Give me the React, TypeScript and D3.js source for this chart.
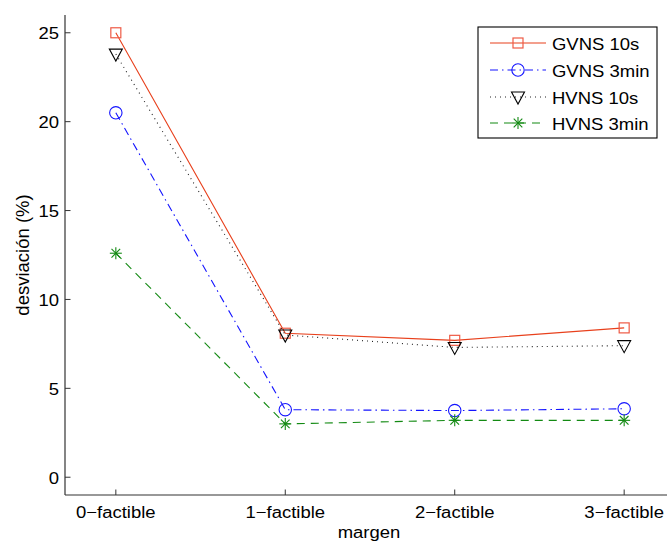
import React from "react";
import * as d3 from "d3";

const categories = ["0−factible", "1−factible", "2−factible", "3−factible"];
const gvns10s = [25.0, 8.1, 7.7, 8.4];
const gvns3min = [20.5, 3.8, 3.75, 3.85];
const hvns10s = [23.8, 8.0, 7.3, 7.4];
const hvns3min = [12.6, 3.0, 3.2, 3.2];
const yTicks = [0, 5, 10, 15, 20, 25];
const seriesNames = ["GVNS 10s", "GVNS 3min", "HVNS 10s", "HVNS 3min"];

const W = 667;
const H = 542;
const FONT = "'Liberation Sans', Arial, Helvetica, sans-serif";

type Marker = "square" | "circle" | "tri" | "star";
const seriesStyle: { color: string; dash: string | undefined; marker: Marker }[] = [
  { color: "#e8401c", dash: undefined, marker: "square" },
  { color: "#1414ff", dash: "8,4,1.5,4", marker: "circle" },
  { color: "#222222", dash: "1,4", marker: "tri" },
  { color: "#138a13", dash: "8,6", marker: "star" },
];

function MarkerShape({ kind, cx, cy, color }: { kind: Marker; cx: number; cy: number; color: string }) {
  if (kind === "square") {
    return <rect x={cx - 5} y={cy - 5} width={10} height={10} fill="none" stroke="#ee5a45" strokeWidth={1.2} />;
  }
  if (kind === "circle") {
    return <circle cx={cx} cy={cy} r={6.2} fill="none" stroke={color} strokeWidth={1.1} />;
  }
  if (kind === "tri") {
    const p = `${cx - 6.5},${cy - 5} ${cx + 6.5},${cy - 5} ${cx},${cy + 7}`;
    return <polygon points={p} fill="none" stroke="#000" strokeWidth={1.1} />;
  }
  const r = 6;
  const d = r * 0.72;
  return (
    <g stroke={color} strokeWidth={1.1}>
      <line x1={cx - r} y1={cy} x2={cx + r} y2={cy} />
      <line x1={cx} y1={cy - r} x2={cx} y2={cy + r} />
      <line x1={cx - d} y1={cy - d} x2={cx + d} y2={cy + d} />
      <line x1={cx - d} y1={cy + d} x2={cx + d} y2={cy - d} />
    </g>
  );
}

function SText({ x, y, anchor, children }: { x: number; y: number; anchor: string; children: React.ReactNode }) {
  return (
    <g transform={`translate(${x},${y}) scale(1,0.9)`}>
      <text x={0} y={0} textAnchor={anchor as any} fontFamily={FONT} fontSize={18.5} fill="#000">
        {children}
      </text>
    </g>
  );
}

export default function App() {
  const x = d3.scaleLinear().domain([-0.3, 3.3]).range([65, 675]);
  const y = d3.scaleLinear().domain([-1, 26]).range([495, 15]);
  const idx = categories.map((_, i) => i);
  const allSeries = [gvns10s, gvns3min, hvns10s, hvns3min];
  const line = d3
    .line<number>()
    .x((_, i) => x(i))
    .y((v) => y(v));

  const axisColor = "#333";
  const left = x(-0.3);
  const bottom = y(-1);

  const legX = 478;
  const legY = 27;
  const legW = 179;
  const legH = 111;
  const legRows = [43, 70, 97, 123];

  return (
    <svg width={W} height={H} style={{ position: "absolute", left: 0, top: 0, background: "#fff" }}>
      <rect x={0} y={0} width={W} height={H} fill="#fff" />
      {/* axes */}
      <line x1={left} y1={y(26)} x2={left} y2={bottom} stroke={axisColor} strokeWidth={1.2} />
      <line x1={left} y1={bottom} x2={W} y2={bottom} stroke={axisColor} strokeWidth={1.2} />
      {yTicks.map((t) => (
        <g key={"yt" + t}>
          <line x1={left} x2={left + 5.5} y1={y(t)} y2={y(t)} stroke={axisColor} />
          <SText x={left - 6} y={y(t) + 6.5} anchor="end">
            {t}
          </SText>
        </g>
      ))}
      {idx.map((i) => (
        <g key={"xt" + i}>
          <line x1={x(i)} x2={x(i)} y1={bottom} y2={bottom - 5.5} stroke={axisColor} />
          <SText x={x(i)} y={518} anchor="middle">
            {categories[i]}
          </SText>
        </g>
      ))}
      <SText x={369} y={538} anchor="middle">
        margen
      </SText>
      <text
        transform={`translate(29,255) rotate(-90)`}
        textAnchor="middle"
        fontFamily={FONT}
        fontSize={18.5}
        fill="#000"
      >
        desviación (%)
      </text>

      {/* series */}
      {allSeries.map((s, si) => (
        <g key={"s" + si}>
          <path
            d={line(s) || ""}
            fill="none"
            stroke={seriesStyle[si].color}
            strokeWidth={1.1}
            strokeDasharray={seriesStyle[si].dash}
          />
          {s.map((v, i) => (
            <MarkerShape key={i} kind={seriesStyle[si].marker} cx={x(i)} cy={y(v)} color={seriesStyle[si].color} />
          ))}
        </g>
      ))}

      {/* legend */}
      <rect x={legX} y={legY} width={legW} height={legH} fill="#fff" stroke="#000" strokeWidth={1.1} />
      {seriesNames.map((n, si) => (
        <g key={"l" + si}>
          <line
            x1={490}
            x2={546}
            y1={legRows[si]}
            y2={legRows[si]}
            stroke={seriesStyle[si].color}
            strokeWidth={1.1}
            strokeDasharray={seriesStyle[si].dash}
          />
          <MarkerShape kind={seriesStyle[si].marker} cx={518} cy={legRows[si]} color={seriesStyle[si].color} />
          <SText x={552} y={legRows[si] + 6.5} anchor="start">
            {n}
          </SText>
        </g>
      ))}
    </svg>
  );
}
